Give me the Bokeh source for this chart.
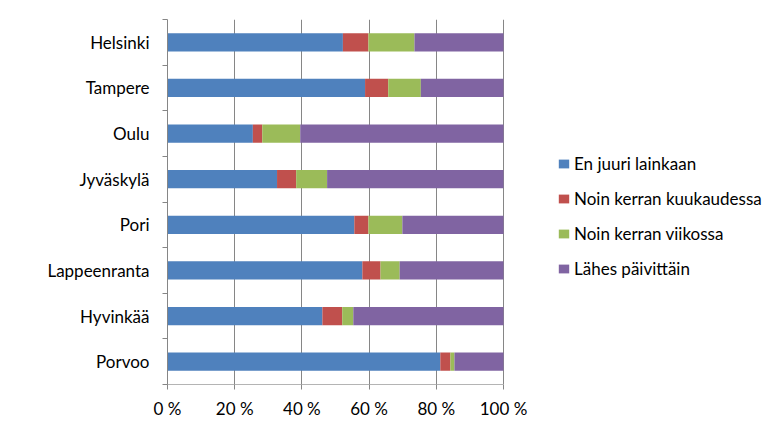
from bokeh.plotting import figure
from bokeh.models import ColumnDataSource, FixedTicker, Legend, LegendItem, Range1d
from bokeh.embed import file_html
from bokeh.resources import INLINE

cities = ["Helsinki", "Tampere", "Oulu", "Jyväskylä", "Pori", "Lappeenranta", "Hyvinkää", "Porvoo"]
en_juuri = [52.2, 58.8, 25.4, 32.6, 55.6, 58.0, 46.1, 81.2]
kuukaudessa = [7.6, 6.9, 2.8, 5.7, 4.2, 5.4, 5.9, 3.0]
viikossa = [13.7, 9.7, 11.3, 9.2, 10.1, 5.7, 3.3, 1.2]
paivittain = [26.5, 24.6, 60.5, 52.5, 30.1, 30.9, 44.7, 14.6]
series_names = ["En juuri lainkaan", "Noin kerran kuukaudessa", "Noin kerran viikossa", "Lähes päivittäin"]
x_ticks = [0, 20, 40, 60, 80, 100]
x_labels = ["0 %", "20 %", "40 %", "60 %", "80 %", "100 %"]

colors = ["#4F81BD", "#C0504D", "#9BBB59", "#8064A2"]
keys = ["a", "b", "c", "d"]
n = len(cities)
ypos = [n - 0.5 - i for i in range(n)]

src = ColumnDataSource(dict(y=ypos, a=en_juuri, b=kuukaudessa, c=viikossa, d=paivittain))

FONT = "Lato"
W, H = 770, 428
LEFT, RIGHT, TOP, BOTTOM = 167, 0, 19, 44
DATA_W = 336  # pixel width of the 0..100 % span
frame_w = W - LEFT - RIGHT
x_end = 100.0 * frame_w / DATA_W

p = figure(width=W, height=H, output_backend="svg", toolbar_location=None,
           x_range=Range1d(0, x_end), y_range=Range1d(0, n),
           min_border_left=LEFT, min_border_right=RIGHT, min_border_top=TOP, min_border_bottom=BOTTOM)
p.outline_line_color = None

renderers = p.hbar_stack(keys, y="y", height=0.4, color=colors, line_color=None, source=src)

# x axis
p.xaxis.bounds = (0, 100)
p.xaxis.ticker = FixedTicker(ticks=x_ticks, minor_ticks=[])
p.xaxis.major_label_overrides = {t: l for t, l in zip(x_ticks, x_labels)}
p.xaxis.axis_line_color = "#b4b4b4"
p.xaxis.major_tick_line_color = "#868686"
p.xaxis.major_tick_out = 5
p.xaxis.major_tick_in = 0
p.xaxis.minor_tick_line_color = None
p.xaxis.major_label_text_font = FONT
p.xaxis.major_label_text_font_size = "17px"
p.xaxis.major_label_text_color = "#000000"
p.xaxis.major_label_standoff = 8

# y axis
p.yaxis.ticker = FixedTicker(ticks=ypos, minor_ticks=list(range(n + 1)))
p.yaxis.major_label_overrides = {y: c for y, c in zip(ypos, cities)}
p.yaxis.axis_line_color = "#868686"
p.yaxis.major_tick_line_color = None
p.yaxis.minor_tick_line_color = "#868686"
p.yaxis.minor_tick_out = 5
p.yaxis.minor_tick_in = 0
p.yaxis.major_label_text_font = FONT
p.yaxis.major_label_text_font_size = "17px"
p.yaxis.major_label_text_color = "#000000"
p.yaxis.major_label_standoff = 12

p.xgrid.ticker = FixedTicker(ticks=x_ticks)
p.xgrid.grid_line_color = "#868686"
p.ygrid.grid_line_color = None

legend = Legend(items=[LegendItem(label=nm, renderers=[r]) for nm, r in zip(series_names, renderers)],
                location=(390, 105))
legend.border_line_color = None
legend.background_fill_alpha = 0
legend.padding = 0
legend.margin = 0
legend.spacing = 14
legend.glyph_width = 13
legend.glyph_height = 11
legend.label_standoff = 4
legend.label_height = 21
legend.label_text_font = FONT
legend.label_text_font_size = "17px"
legend.label_text_color = "#000000"
p.add_layout(legend, "center")

open("out.html", "w").write(file_html(p, INLINE))
